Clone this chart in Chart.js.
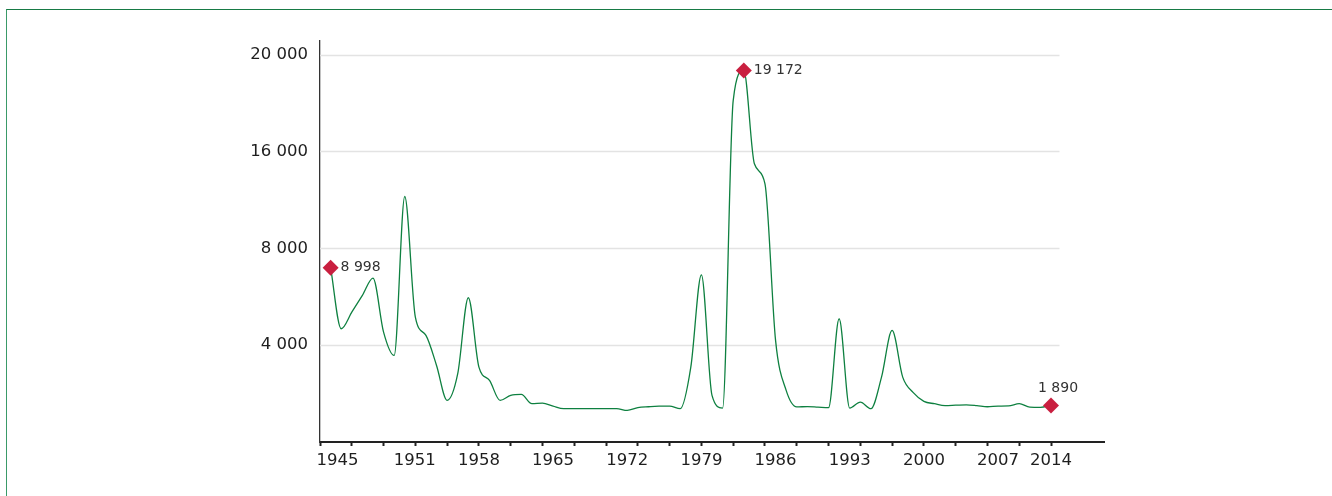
<!DOCTYPE html>
<html><head><meta charset="utf-8">
<script src="https://cdn.jsdelivr.net/npm/chart.js@4"></script>
<style>
html,body{margin:0;padding:0;background:#fff;overflow:hidden;width:1332px;height:496px}
#frame{position:absolute;left:6px;top:9px;width:1400px;height:600px;border-top:1px solid #177a45;border-left:1px solid #3a9a68;box-sizing:border-box}
canvas{position:absolute;left:0;top:0}
</style></head><body>
<div id="frame"></div>
<canvas id="c" width="1332" height="496"></canvas>
<script>
// series values, one per category index (0..68)
const values = [
  8998, 5846, 6700, 7565, 8457, 5671, 4468, 12673, 6445, 5500,
  3952, 2147, 3524, 7446, 3865, 3178, 2147, 2405, 2456, 1976,
  2007, 1850, 1718, 1718, 1718, 1718, 1718, 1718, 1630, 1770,
  1820, 1852, 1852, 1718, 3865, 8632, 2405, 1750, 17626, 19172,
  14360, 13328, 5243, 2663, 1810, 1830, 1800, 1770, 6362, 1750,
  2059, 1718, 3349, 5759, 3349, 2550, 2100, 1976, 1880, 1900,
  1920, 1880, 1820, 1850, 1860, 1980, 1800, 1790, 1890
];
const categoryIndex = values.map((v, i) => i);
const xTickLabels = ['1945','1951','1958','1965','1972','1979','1986','1993','2000','2007','2014'];
const yTickLabels = ['4 000','8 000','16 000','20 000'];
const yTickValues = [5000, 10000, 15000, 20000];

const maxIdx = values.indexOf(Math.max(...values));
const lastIdx = values.length - 1;
const markIdx = [0, maxIdx, lastIdx];
const fmt = v => String(v).replace(/\B(?=(\d{3})+(?!\d))/g, ' ');

const FONT = '"DejaVu Sans", sans-serif';

const gridPlugin = {
  id: 'grid',
  beforeDatasetsDraw(chart) {
    const {ctx, chartArea} = chart;
    const ys = chart.scales.y, xs = chart.scales.x;
    const xEnd = xs.getPixelForValue(lastIdx + 0.8);
    ctx.save();
    ctx.strokeStyle = '#e3e3e3';
    ctx.lineWidth = 1.5;
    yTickValues.forEach(v => {
      const y = Math.round(ys.getPixelForValue(v)) + 0.5;
      ctx.beginPath();
      ctx.moveTo(chartArea.left, y);
      ctx.lineTo(xEnd, y);
      ctx.stroke();
    });
    ctx.restore();
  }
};

const labelPlugin = {
  id: 'plabels',
  afterDatasetsDraw(chart) {
    const ctx = chart.ctx;
    const meta = chart.getDatasetMeta(0);
    ctx.save();
    ctx.font = '14px ' + FONT;
    ctx.fillStyle = '#333';
    ctx.textBaseline = 'middle';
    markIdx.forEach(i => {
      const p = meta.data[i];
      const txt = fmt(values[i]);
      if (i === lastIdx) {
        ctx.textAlign = 'center';
        ctx.fillText(txt, p.x + 7, p.y - 17);
      } else {
        ctx.textAlign = 'left';
        ctx.fillText(txt, p.x + 10, p.y);
      }
    });
    ctx.restore();
  }
};

new Chart(document.getElementById('c'), {
  type: 'line',
  data: {
    datasets: [{
      data: categoryIndex.map(i => ({x: i, y: values[i]})),
      borderColor: '#0e8040',
      borderWidth: 1.3,
      cubicInterpolationMode: 'monotone',
      fill: false,
      pointStyle: 'rectRot',
      pointRadius: ctx => markIdx.includes(ctx.dataIndex) ? 8 : 0,
      pointHoverRadius: ctx => markIdx.includes(ctx.dataIndex) ? 8 : 0,
      pointBackgroundColor: '#c91f3f',
      pointBorderColor: '#c91f3f',
      pointBorderWidth: 0,
      xAxisID: 'x',
      yAxisID: 'y'
    }]
  },
  options: {
    responsive: false,
    animation: false,
    events: [],
    layout: {padding: {left: 0, top: 41, right: 228, bottom: 0}},
    plugins: {legend: {display: false}, tooltip: {enabled: false}},
    scales: {
      xt: {
        type: 'linear', position: 'bottom', weight: 0,
        min: -1, max: 73,
        afterBuildTicks: s => {
          const t = [];
          for (let v = -1; v <= lastIdx; v += 3) t.push({value: v});
          s.ticks = t;
        },
        afterFit: s => { s.height = 5; },
        ticks: {display: false},
        grid: {display: true, drawOnChartArea: false, drawTicks: true, tickLength: 4, tickWidth: 2, tickColor: '#222'},
        border: {display: true, color: '#222', width: 2}
      },
      x: {
        type: 'linear', position: 'bottom', weight: 1,
        min: -1, max: 73,
        afterBuildTicks: s => {
          const pos = [0.65, 7.95, 14, 21, 28, 35, 42, 49, 56, 63, 68];
          s.ticks = pos.map(v => ({value: v}));
        },
        afterFit: s => { s.height = 496 - 442 - 5; },
        ticks: {
          autoSkip: false, maxRotation: 0, padding: 4,
          color: '#1e1e1e', font: {family: FONT, size: 16.5},
          callback: (v, i) => xTickLabels[i]
        },
        grid: {display: false, drawTicks: false},
        border: {display: false}
      },
      y: {
        type: 'linear', position: 'left',
        min: 0, max: 20700,
        afterBuildTicks: s => { s.ticks = yTickValues.map(v => ({value: v})); },
        afterFit: s => { s.width = 320; },
        ticks: {
          padding: 12, color: '#1e1e1e', font: {family: FONT, size: 16.5},
          callback: (v, i) => yTickLabels[i]
        },
        grid: {display: false, drawTicks: false},
        border: {display: true, color: '#333', width: 1.3}
      }
    }
  },
  plugins: [gridPlugin, labelPlugin]
});
</script>
</body></html>
